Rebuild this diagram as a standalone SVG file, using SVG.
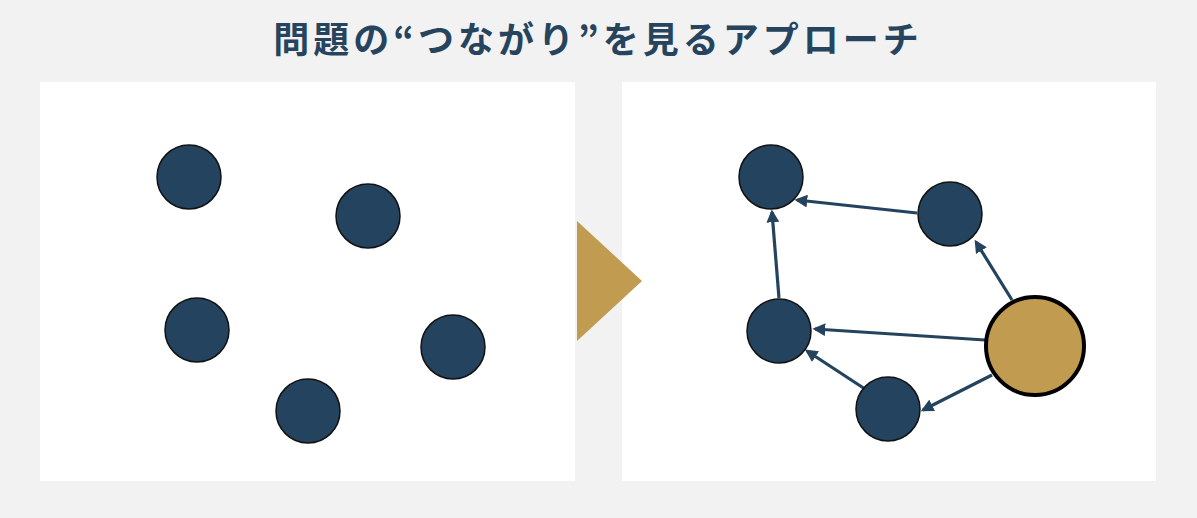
<svg xmlns="http://www.w3.org/2000/svg" width="1197" height="518" viewBox="0 0 1197 518">
<style>
.title{font-family:"Noto Sans CJK JP","Noto Sans",sans-serif;font-size:36px;font-weight:700;fill:#26445e;letter-spacing:4px}
.panel{fill:#ffffff}
.node{fill:#24435e;stroke:#111;stroke-width:1.5}
.hub{fill:#c19c50;stroke:#000;stroke-width:4}
.edge{stroke:#24435e;stroke-width:3.2;fill:none;marker-end:url(#ah)}
</style>
<defs>
<marker id="ah" viewBox="0 0 10 10" refX="8" refY="5" markerWidth="4" markerHeight="4" orient="auto" markerUnits="strokeWidth">
<path d="M0,0 L10,5 L0,10 z" fill="#24435e"/>
</marker>
</defs>
<rect width="1197" height="518" fill="#f2f2f2"/>
<text class="title" x="598" y="53" text-anchor="middle">問題の“つながり”を見るアプローチ</text>
<rect class="panel" x="40" y="82" width="535" height="399"/>
<rect class="panel" x="622" y="82" width="534" height="399"/>
<polygon points="577,221 642,281 577,341" fill="#c19c50"/>
<g id="left-nodes">
<circle id="l1" class="node" cx="189" cy="177" r="32"/>
<circle id="l2" class="node" cx="368" cy="216" r="32"/>
<circle id="l3" class="node" cx="197" cy="330" r="32"/>
<circle id="l4" class="node" cx="453" cy="347" r="32"/>
<circle id="l5" class="node" cx="308" cy="411" r="32"/>
</g>
<g id="connectors">
<line class="edge" x1="917" y1="213" x2="797" y2="200"/>
<line class="edge" x1="779" y1="298" x2="772" y2="212"/>
<line class="edge" x1="1012" y1="300" x2="976" y2="242"/>
<line class="edge" x1="985" y1="340" x2="815" y2="329"/>
<line class="edge" x1="992" y1="375" x2="923" y2="410"/>
<line class="edge" x1="865" y1="389" x2="807" y2="351"/>
</g>
<g id="r1"><circle class="node" cx="771" cy="177" r="32"/></g>
<g id="r2"><circle class="node" cx="950" cy="214" r="32"/></g>
<g id="r3"><circle class="node" cx="779" cy="331" r="32"/></g>
<g id="r4"><circle class="node" cx="888" cy="409" r="32"/></g>
<g id="hub"><circle class="hub" cx="1035" cy="346" r="49"/></g>
</svg>
